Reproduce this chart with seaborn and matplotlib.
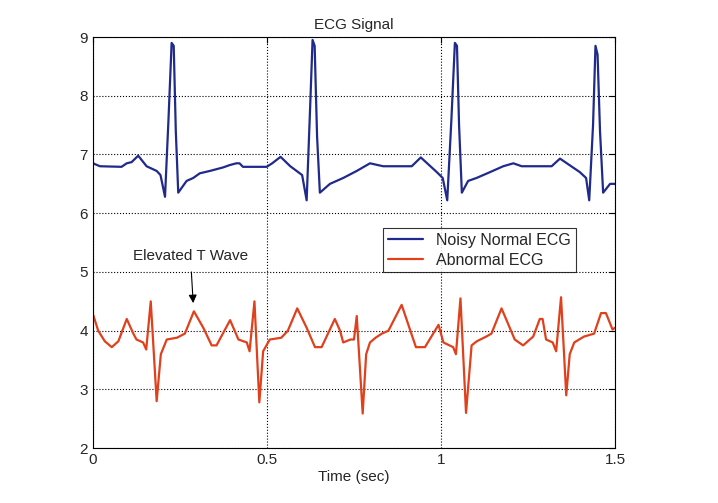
import matplotlib
matplotlib.use("Agg")
import matplotlib.pyplot as plt
import seaborn as sns
import pandas as pd

# values (time in sec, amplitude)
normal_t = [0.0, 0.02, 0.082, 0.097, 0.111, 0.130, 0.154, 0.183, 0.194, 0.207, 0.217, 0.226, 0.232, 0.238, 0.245,
            0.269, 0.288, 0.307, 0.336, 0.374, 0.393, 0.412, 0.421, 0.431, 0.499, 0.515, 0.539, 0.567, 0.601,
            0.614, 0.624, 0.631, 0.637, 0.644, 0.652, 0.681, 0.719, 0.758, 0.796, 0.834, 0.916, 0.942,
            0.988, 1.005, 1.018, 1.030, 1.040, 1.046, 1.052, 1.060, 1.078, 1.102, 1.141, 1.179, 1.208,
            1.232, 1.318, 1.342, 1.399, 1.417, 1.426, 1.437, 1.444, 1.450, 1.457, 1.466, 1.486, 1.5]
normal_v = [6.85, 6.80, 6.79, 6.85, 6.87, 6.98, 6.80, 6.72, 6.65, 6.28, 7.6, 8.9, 8.85, 7.4, 6.35,
            6.55, 6.60, 6.68, 6.72, 6.78, 6.82, 6.85, 6.85, 6.79, 6.79, 6.85, 6.96, 6.80, 6.65,
            6.22, 7.8, 8.95, 8.85, 7.3, 6.35, 6.50, 6.60, 6.72, 6.85, 6.80, 6.80, 6.95,
            6.70, 6.60, 6.22, 7.6, 8.9, 8.85, 7.5, 6.35, 6.55, 6.60, 6.70, 6.80, 6.85,
            6.80, 6.80, 6.93, 6.70, 6.60, 6.22, 7.5, 8.85, 8.7, 7.4, 6.35, 6.50, 6.50]

abnormal_t = [0.0, 0.015, 0.034, 0.054, 0.073, 0.097, 0.116, 0.125, 0.144, 0.153, 0.166, 0.183, 0.195, 0.212,
              0.241, 0.264, 0.290, 0.317, 0.341, 0.355, 0.394, 0.418, 0.442, 0.450, 0.464, 0.478, 0.489,
              0.508, 0.541, 0.560, 0.587, 0.614, 0.638, 0.657, 0.695, 0.710, 0.719, 0.740, 0.750, 0.758,
              0.775, 0.785, 0.796, 0.812, 0.830, 0.849, 0.887, 0.928, 0.954, 0.993, 1.007, 1.035, 1.043,
              1.056, 1.072, 1.088, 1.103, 1.130, 1.145, 1.174, 1.212, 1.236, 1.265, 1.284, 1.292, 1.302,
              1.321, 1.331, 1.345, 1.360, 1.370, 1.383, 1.411, 1.440, 1.460, 1.474, 1.493, 1.5]
abnormal_v = [4.28, 4.0, 3.82, 3.72, 3.82, 4.2, 3.95, 3.85, 3.80, 3.68, 4.5, 2.8, 3.6, 3.85,
              3.88, 3.95, 4.33, 4.05, 3.75, 3.75, 4.18, 3.85, 3.80, 3.65, 4.5, 2.78, 3.65,
              3.85, 3.88, 4.0, 4.38, 4.05, 3.72, 3.72, 4.2, 4.0, 3.80, 3.85, 3.85, 4.25,
              2.59, 3.6, 3.80, 3.88, 3.95, 4.0, 4.44, 3.72, 3.72, 4.1, 3.80, 3.72, 3.60,
              4.55, 2.6, 3.75, 3.82, 3.90, 3.95, 4.38, 3.85, 3.75, 3.90, 4.2, 4.2, 3.85,
              3.80, 3.65, 4.57, 2.9, 3.6, 3.80, 3.90, 3.95, 4.3, 4.3, 4.02, 4.05]

x_ticks = [0, 0.5, 1, 1.5]
x_tick_labels = ["0", "0.5", "1", "1.5"]
y_ticks = [2, 3, 4, 5, 6, 7, 8, 9]

sns.set_style("white")
plt.rcParams["font.family"] = ["Liberation Sans", "DejaVu Sans"]

normal = pd.DataFrame({"t": normal_t, "v": normal_v})
abnormal = pd.DataFrame({"t": abnormal_t, "v": abnormal_v})

fig = plt.figure(figsize=(7.18, 5.03), dpi=100)
ax = fig.add_axes([0.1295, 0.109, 0.727, 0.8174])
sns.lineplot(data=normal, x="t", y="v", ax=ax, color="#1f2a8c", linewidth=1.6,
             label="Noisy Normal ECG", estimator=None, sort=False)
sns.lineplot(data=abnormal, x="t", y="v", ax=ax, color="#e0401c", linewidth=1.6,
             label="Abnormal ECG", estimator=None, sort=False)

ax.set_xlim(0, 1.5)
ax.set_ylim(2, 9)
ax.set_xticks(x_ticks)
ax.set_xticklabels(x_tick_labels)
ax.set_yticks(y_ticks)
ax.tick_params(direction="in", length=4, labelsize=11, top=True, right=True, color="black")
ax.grid(True, linestyle=":", color="black", linewidth=0.8)
for s in ax.spines.values():
    s.set_color("black")
    s.set_linewidth(0.8)
ax.set_title("ECG Signal", fontsize=11)
ax.set_xlabel("Time (sec)", fontsize=11, labelpad=2)
ax.set_ylabel("")

ax.annotate("Elevated T Wave", xy=(0.288, 4.47), xytext=(0.28, 5.27), ha="center", va="center",
            fontsize=11, arrowprops=dict(arrowstyle="-|>", color="black", lw=0.8, mutation_scale=12,
                                         shrinkA=4, shrinkB=0))

leg = ax.legend(loc="upper right", bbox_to_anchor=(0.94, 0.555), fontsize=11.5, frameon=True,
                fancybox=False, edgecolor="black", borderpad=0.3, handlelength=2.2, labelspacing=0.3)
leg.get_frame().set_linewidth(0.8)

fig.savefig("out.png", dpi=100)
